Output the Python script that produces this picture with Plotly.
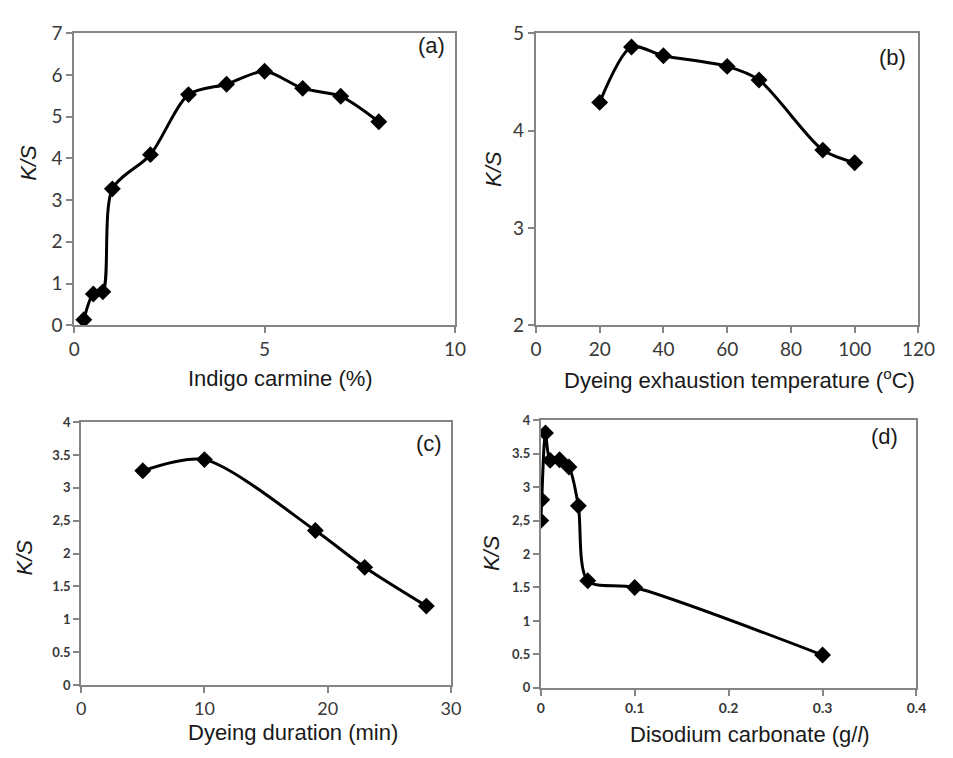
import plotly.graph_objects as go

# ---- data ----
a_x = [0.25, 0.5, 0.75, 1, 2, 3, 4, 5, 6, 7, 8]
a_y = [0.13, 0.75, 0.8, 3.27, 4.09, 5.53, 5.78, 6.09, 5.68, 5.49, 4.88]

b_x = [20, 30, 40, 60, 70, 90, 100]
b_y = [4.29, 4.86, 4.77, 4.66, 4.52, 3.80, 3.67]

c_x = [5, 10, 19, 23, 28]
c_y = [3.26, 3.43, 2.35, 1.79, 1.20]

d_x = [0, 0.001, 0.005, 0.01, 0.02, 0.03, 0.04, 0.05, 0.1, 0.3]
d_y = [2.50, 2.81, 3.81, 3.40, 3.41, 3.30, 2.72, 1.60, 1.50, 0.49]

a_yticks = [0, 1, 2, 3, 4, 5, 6, 7]
a_xticks = [0, 5, 10]
b_yticks = [2, 3, 4, 5]
b_xticks = [0, 20, 40, 60, 80, 100, 120]
cd_yticks = [0, 0.5, 1, 1.5, 2, 2.5, 3, 3.5, 4]
cd_yticktext = ["0", "0.5", "1", "1.5", "2", "2,5", "3", "3.5", "4"]
c_xticks = [0, 10, 20, 30]
d_xticks = [0, 0.1, 0.2, 0.3, 0.4]
d_xticktext = ["0", "0.1", "0.2", "0.3", "0.4"]

x_titles = ["Indigo carmine (%)",
            "Dyeing exhaustion temperature (<sup>o</sup>C)",
            "Dyeing duration (min)",
            "Disodium carbonate (g/<i>l</i>)"]
y_title = "<i>K/S</i>"
panel_labels = ["(a)", "(b)", "(c)", "(d)"]

W, H = 953, 758

def dom_x(l, r):
    return [l / W, r / W]

def dom_y(t, b):
    return [1 - b / H, 1 - t / H]

fig = go.Figure()

series = [(a_x, a_y, "x", "y"), (b_x, b_y, "x2", "y2"),
          (c_x, c_y, "x3", "y3"), (d_x, d_y, "x4", "y4")]
for xs, ys, xa, ya in series:
    fig.add_trace(go.Scatter(
        x=xs, y=ys, xaxis=xa, yaxis=ya, mode="lines+markers",
        line=dict(color="black", width=3, shape="spline", smoothing=0.8),
        marker=dict(symbol="diamond", size=13, color="black"),
        showlegend=False, hoverinfo="x+y"))

AX = "#858585"
TICKC = "#383838"
TICKF = "Lato, Open Sans, sans-serif"
TITF = "Liberation Sans, Arial, sans-serif"

def axis(domain, rng, tickvals, ticktext=None, size=19, bold=False, anchor=None):
    d = dict(domain=domain, range=rng, tickvals=tickvals,
             showline=True, linecolor=AX, linewidth=2, mirror=True,
             ticks="outside", ticklen=6, tickcolor=AX, tickwidth=2,
             showgrid=False, zeroline=False,
             tickfont=dict(family=TICKF, size=size, color=TICKC,
                           weight="bold" if bold else "normal"),
             anchor=anchor)
    if ticktext is not None:
        d["ticktext"] = ticktext
    return d

fig.update_layout(
    width=W, height=H, margin=dict(l=0, r=0, t=0, b=0),
    paper_bgcolor="white", plot_bgcolor="white",
    xaxis=axis(dom_x(70, 460), [0, 10], a_xticks, size=19, anchor="y"),
    yaxis=axis(dom_y(22, 323), [0, 7], a_yticks, size=19, anchor="x"),
    xaxis2=axis(dom_x(543, 935), [0, 120], b_xticks, size=19, anchor="y2"),
    yaxis2=axis(dom_y(22, 323), [2, 5], b_yticks, size=19, anchor="x2"),
    xaxis3=axis(dom_x(77, 456), [0, 30], c_xticks, size=18, anchor="y3"),
    yaxis3=axis(dom_y(423, 694), [0, 4], cd_yticks, cd_yticktext, size=13, bold=True, anchor="x3"),
    xaxis4=axis(dom_x(548, 933), [0, 0.4], d_xticks, d_xticktext, size=14, bold=True, anchor="y4"),
    yaxis4=axis(dom_y(421, 697), [0, 4], cd_yticks, cd_yticktext, size=13, bold=True, anchor="x4"),
)

TF = dict(family=TITF, size=22, color="#1a1a1a")

# x-axis titles (pixel centres)
xt_pos = [(281, 378), (752, 378), (294, 743), (762, 745)]
for txt, (px, py) in zip(x_titles, xt_pos):
    fig.add_annotation(text=txt, x=px / W, y=1 - py / H, xref="paper", yref="paper",
                       showarrow=False, xanchor="center", yanchor="middle", font=TF)

# y-axis titles
yt_pos = [(23, 155), (499, 162), (19, 563), (497, 558)]
for px, py in yt_pos:
    fig.add_annotation(text=y_title, x=px / W, y=1 - py / H, xref="paper", yref="paper",
                       showarrow=False, xanchor="center", yanchor="middle",
                       textangle=-90, font=TF)

# panel labels
pl_pos = [(436, 35), (908, 47), (433, 445), (900, 438)]
for txt, (px, py) in zip(panel_labels, pl_pos):
    fig.add_annotation(text=txt, x=px / W, y=1 - py / H, xref="paper", yref="paper",
                       showarrow=False, xanchor="center", yanchor="middle", font=TF)

fig.write_html("out.html")
